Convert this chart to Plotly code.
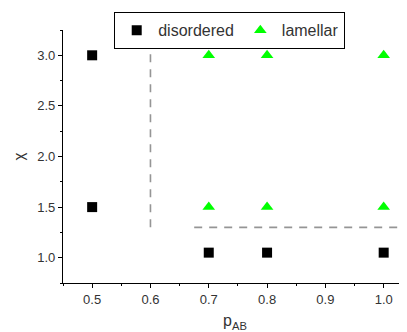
import plotly.graph_objects as go

# data
dis_x = [0.5, 0.5, 0.7, 0.8, 1.0]
dis_y = [3.0, 1.5, 1.05, 1.05, 1.05]
lam_x = [0.7, 0.8, 1.0, 0.7, 0.8, 1.0]
lam_y = [3.0, 3.0, 3.0, 1.5, 1.5, 1.5]
vline_x = [0.6, 0.6]
vline_y = [1.3, 3.07]
hline_x = [0.675, 1.04]
hline_y = [1.3, 1.3]

fig = go.Figure()
fig.add_trace(go.Scatter(x=vline_x, y=vline_y, mode="lines", showlegend=False,
                         line=dict(color="#959595", width=1.6, dash="8px,7px")))
fig.add_trace(go.Scatter(x=hline_x, y=hline_y, mode="lines", showlegend=False,
                         line=dict(color="#959595", width=1.6, dash="8px,7px")))
fig.add_trace(go.Scatter(x=dis_x, y=dis_y, mode="markers", name="disordered",
                         marker=dict(symbol="square", size=10, color="black")))
fig.add_trace(go.Scatter(x=lam_x, y=lam_y, mode="markers", name="lamellar",
                         marker=dict(symbol="triangle-up", size=11, color="#00ff00")))

font = dict(family="Liberation Sans, Arial", size=13, color="#333")
fig.update_layout(
    width=399, height=324,
    margin=dict(l=55, r=0, t=22, b=49, autoexpand=False),
    plot_bgcolor="white", paper_bgcolor="white",
    font=font,
    legend=dict(orientation="h", x=0.148, y=1.0711, xanchor="left", yanchor="top",
                bordercolor="black", borderwidth=1.3, bgcolor="white",
                font=dict(family="Liberation Sans, Arial", size=16, color="#333"),
                itemwidth=33, tracegroupgap=0),
    xaxis=dict(range=[0.45, 1.04], tick0=0.5, dtick=0.1, tickformat=".1f", automargin=False,
               showgrid=False, zeroline=False, showline=True, linecolor="black", linewidth=1.3,
               ticks="outside", ticklen=4, tickcolor="black",
               minor=dict(dtick=0.05, tick0=0.45, ticks="outside", ticklen=2, tickcolor="black"),
               title=dict(text="p<sub>AB</sub>", font=dict(size=16, color="#333"), standoff=9)),
    yaxis=dict(range=[0.75, 3.25], tick0=1.0, dtick=0.5, tickformat=".1f", automargin=False,
               showgrid=False, zeroline=False, showline=True, linecolor="black", linewidth=1.3,
               ticks="outside", ticklen=4, tickcolor="black",
               minor=dict(dtick=0.25, tick0=0.75, ticks="outside", ticklen=2, tickcolor="black"),
               title=dict(text="χ", font=dict(size=15, color="#333"), standoff=8)),
)
fig.write_html("out.html")
